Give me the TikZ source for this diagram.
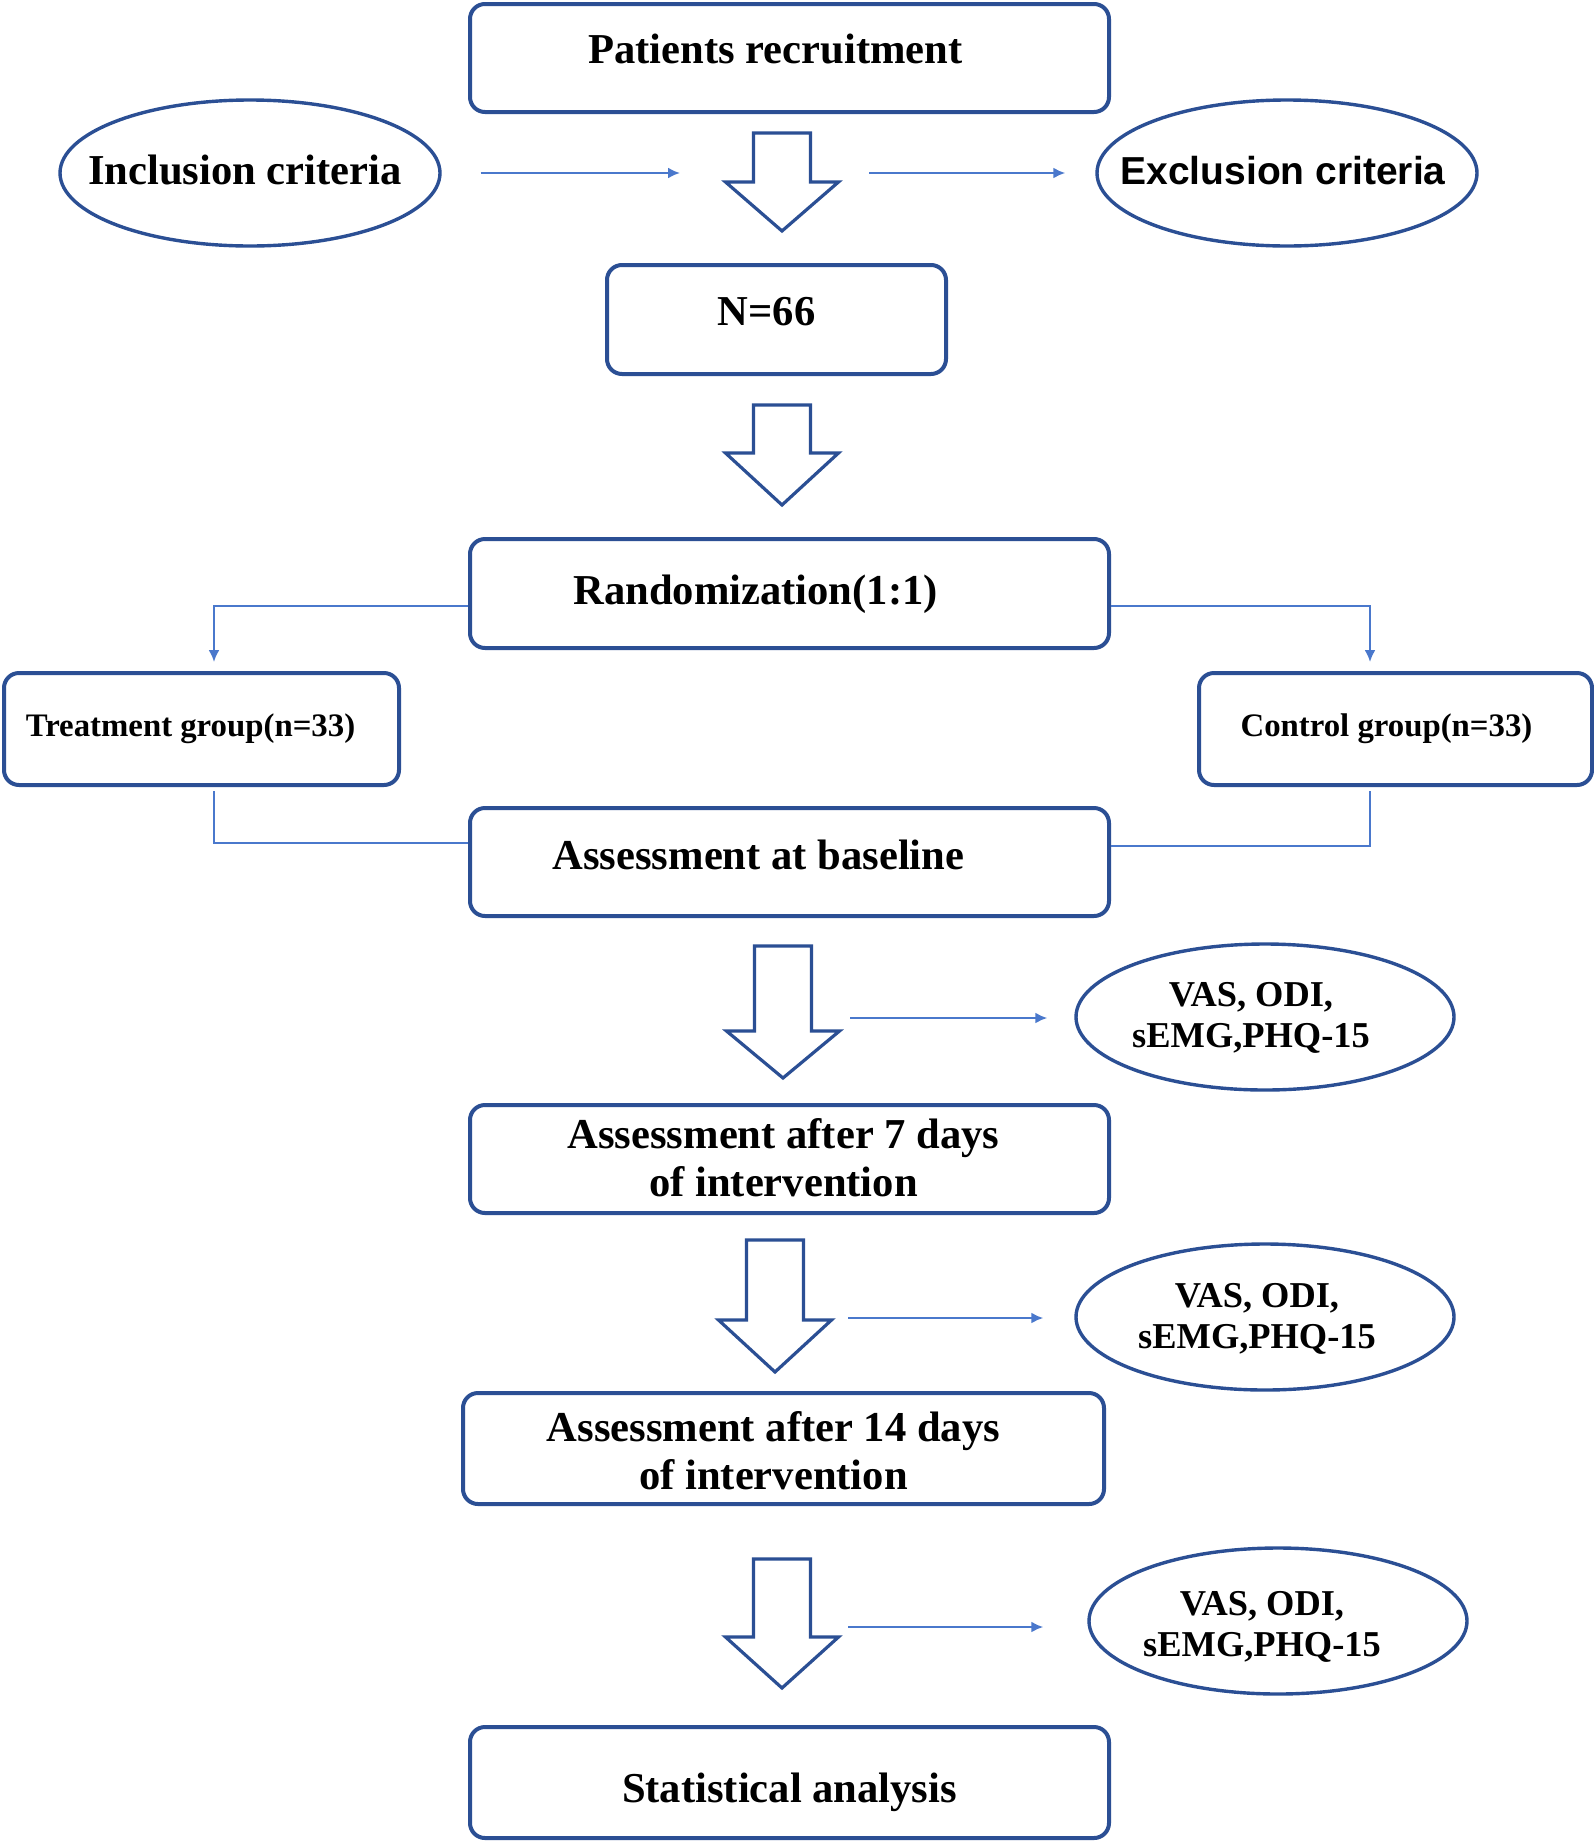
\documentclass[tikz,border=0pt]{standalone}
\usepackage{fontspec}
\setmainfont{Liberation Serif}
\newfontfamily\exfont{Liberation Sans}
\usetikzlibrary{arrows.meta,shapes.geometric,calc}
\definecolor{boxblue}{HTML}{2B4F94}
\definecolor{linkblue}{HTML}{4A78CC}
\def\px{0.5pt}
\newcommand\hollowdown[4]{%
  \draw[hollow] ({#1-28.5},{#2}) -- ({#1+28.5},{#2}) -- ({#1+28.5},{#3}) -- ({#1+56.5},{#3})
    -- ({#1},{#4}) -- ({#1-56.5},{#3}) -- ({#1-28.5},{#3}) -- cycle;}
\begin{document}
\begin{tikzpicture}[x=0.5pt,y=-0.5pt,
  box/.style={draw=boxblue, line width=2pt, rounded corners=7.5pt, inner sep=0pt, fill=white},
  oval/.style={draw=boxblue, line width=1.7pt, ellipse, inner sep=0pt},
  hollow/.style={draw=boxblue, line width=1.6pt, line join=miter, fill=white},
  link/.style={draw=linkblue, line width=1.1pt},
  linkarrow/.style={link, -{Latex[length=6pt,width=5.5pt]}},
  bigtxt/.style={font=\fontsize{21.3}{24}\selectfont\bfseries, align=center},
  midtxt/.style={font=\fontsize{18.2}{20.5}\selectfont\bfseries, align=center},
  smalltxt/.style={font=\fontsize{16.4}{19}\selectfont\bfseries, align=center},
]
\useasboundingbox (0,0) rectangle (1594,1842);
\fill[white] (0,0) rectangle (1594,1842);

% boxes
\node[box, minimum width=639*\px, minimum height=108*\px,
  label={[bigtxt, xshift=-14*\px, yshift=9*\px]center:Patients recruitment}] (rec) at (789.5,58) {};
\node[oval, minimum width=380*\px, minimum height=146*\px,
  label={[bigtxt, xshift=-5*\px, yshift=3*\px]center:Inclusion criteria}] (inc) at (250,173) {};
\node[oval, minimum width=380*\px, minimum height=146*\px,
  label={[font=\exfont\fontsize{19.5}{22}\selectfont\bfseries, xshift=-4*\px, yshift=2*\px]center:Exclusion criteria}] (exc) at (1287,173) {};
\node[box, minimum width=339*\px, minimum height=109*\px,
  label={[bigtxt, xshift=-10*\px, yshift=8*\px]center:N=66}] (n66) at (776.5,319.5) {};
\node[box, minimum width=639*\px, minimum height=109*\px,
  label={[bigtxt, xshift=-34*\px, yshift=-1*\px]center:Randomization(1:1)}] (rand) at (789.5,593.5) {};
\node[box, minimum width=395*\px, minimum height=112*\px,
  label={[smalltxt, xshift=-11*\px, yshift=0*\px]center:Treatment group(n=33)}] (treat) at (201.5,729) {};
\node[box, minimum width=393*\px, minimum height=112*\px,
  label={[smalltxt, xshift=-9*\px, yshift=0*\px]center:Control group(n=33)}] (ctrl) at (1395.5,729) {};
\node[box, minimum width=639*\px, minimum height=108*\px,
  label={[bigtxt, xshift=-31*\px, yshift=7*\px]center:Assessment at baseline}] (base) at (789.5,862) {};
\node[oval, minimum width=378*\px, minimum height=146*\px,
  label={[midtxt, xshift=-14*\px, yshift=-1*\px]center:VAS, ODI,\\sEMG,PHQ-15}] (vas1) at (1265,1017) {};
\node[box, minimum width=639*\px, minimum height=108*\px,
  label={[bigtxt, xshift=-6*\px, yshift=1*\px]center:Assessment after 7 days\\of intervention}] (d7) at (789.5,1159) {};
\node[oval, minimum width=378*\px, minimum height=146*\px,
  label={[midtxt, xshift=-8*\px, yshift=-2*\px]center:VAS, ODI,\\sEMG,PHQ-15}] (vas2) at (1265,1317) {};
\node[box, minimum width=641*\px, minimum height=111*\px,
  label={[bigtxt, xshift=-10*\px, yshift=-2*\px]center:Assessment after 14 days\\of intervention}] (d14) at (783.5,1448.5) {};
\node[oval, minimum width=378*\px, minimum height=146*\px,
  label={[midtxt, xshift=-16*\px, yshift=-6*\px]center:VAS, ODI,\\sEMG,PHQ-15}] (vas3) at (1278,1621) {};
\node[box, minimum width=639*\px, minimum height=111*\px,
  label={[bigtxt, xshift=0*\px, yshift=-10*\px]center:Statistical analysis}] (stat) at (789.5,1782.5) {};

% hollow arrows
\hollowdown{782}{133}{182}{231}
\hollowdown{782}{405}{453}{505}
\hollowdown{783}{946}{1031}{1078}
\hollowdown{775}{1240}{1320}{1372}
\hollowdown{782}{1559}{1637}{1688}

% free-end coordinates
\coordinate (incA) at ($(inc.east)+(39,0)$);
\coordinate (incB) at (680,173);
\coordinate (excA) at (869,173);
\coordinate (excB) at ($(exc.west)+(-30,0)$);
\coordinate (v1s) at (850,1018);
\coordinate (v2s) at (848,1318);
\coordinate (v3s) at (848,1627);

\draw[linkarrow] (incA) -- (incB);
\draw[linkarrow] (excA) -- (excB);

\draw[linkarrow] ($(rand.west)+(0,12.5)$) -| ($(treat.north)+(12.5,-9)$);
\draw[linkarrow] ($(rand.east)+(0,12.5)$) -| ($(ctrl.north)+(-25.5,-9)$);
\draw[link] ($(treat.south)+(12.5,4)$) |- ($(base.west)+(0,-19)$);
\draw[link] ($(ctrl.south)+(-25.5,4)$) |- ($(base.east)+(0,-16)$);

\draw[linkarrow] (v1s) -- ($(vas1.west)+(-27,1)$);
\draw[linkarrow] (v2s) -- ($(vas2.west)+(-31,1)$);
\draw[linkarrow] (v3s) -- ($(vas3.west)+(-44,6)$);
\end{tikzpicture}
\end{document}
